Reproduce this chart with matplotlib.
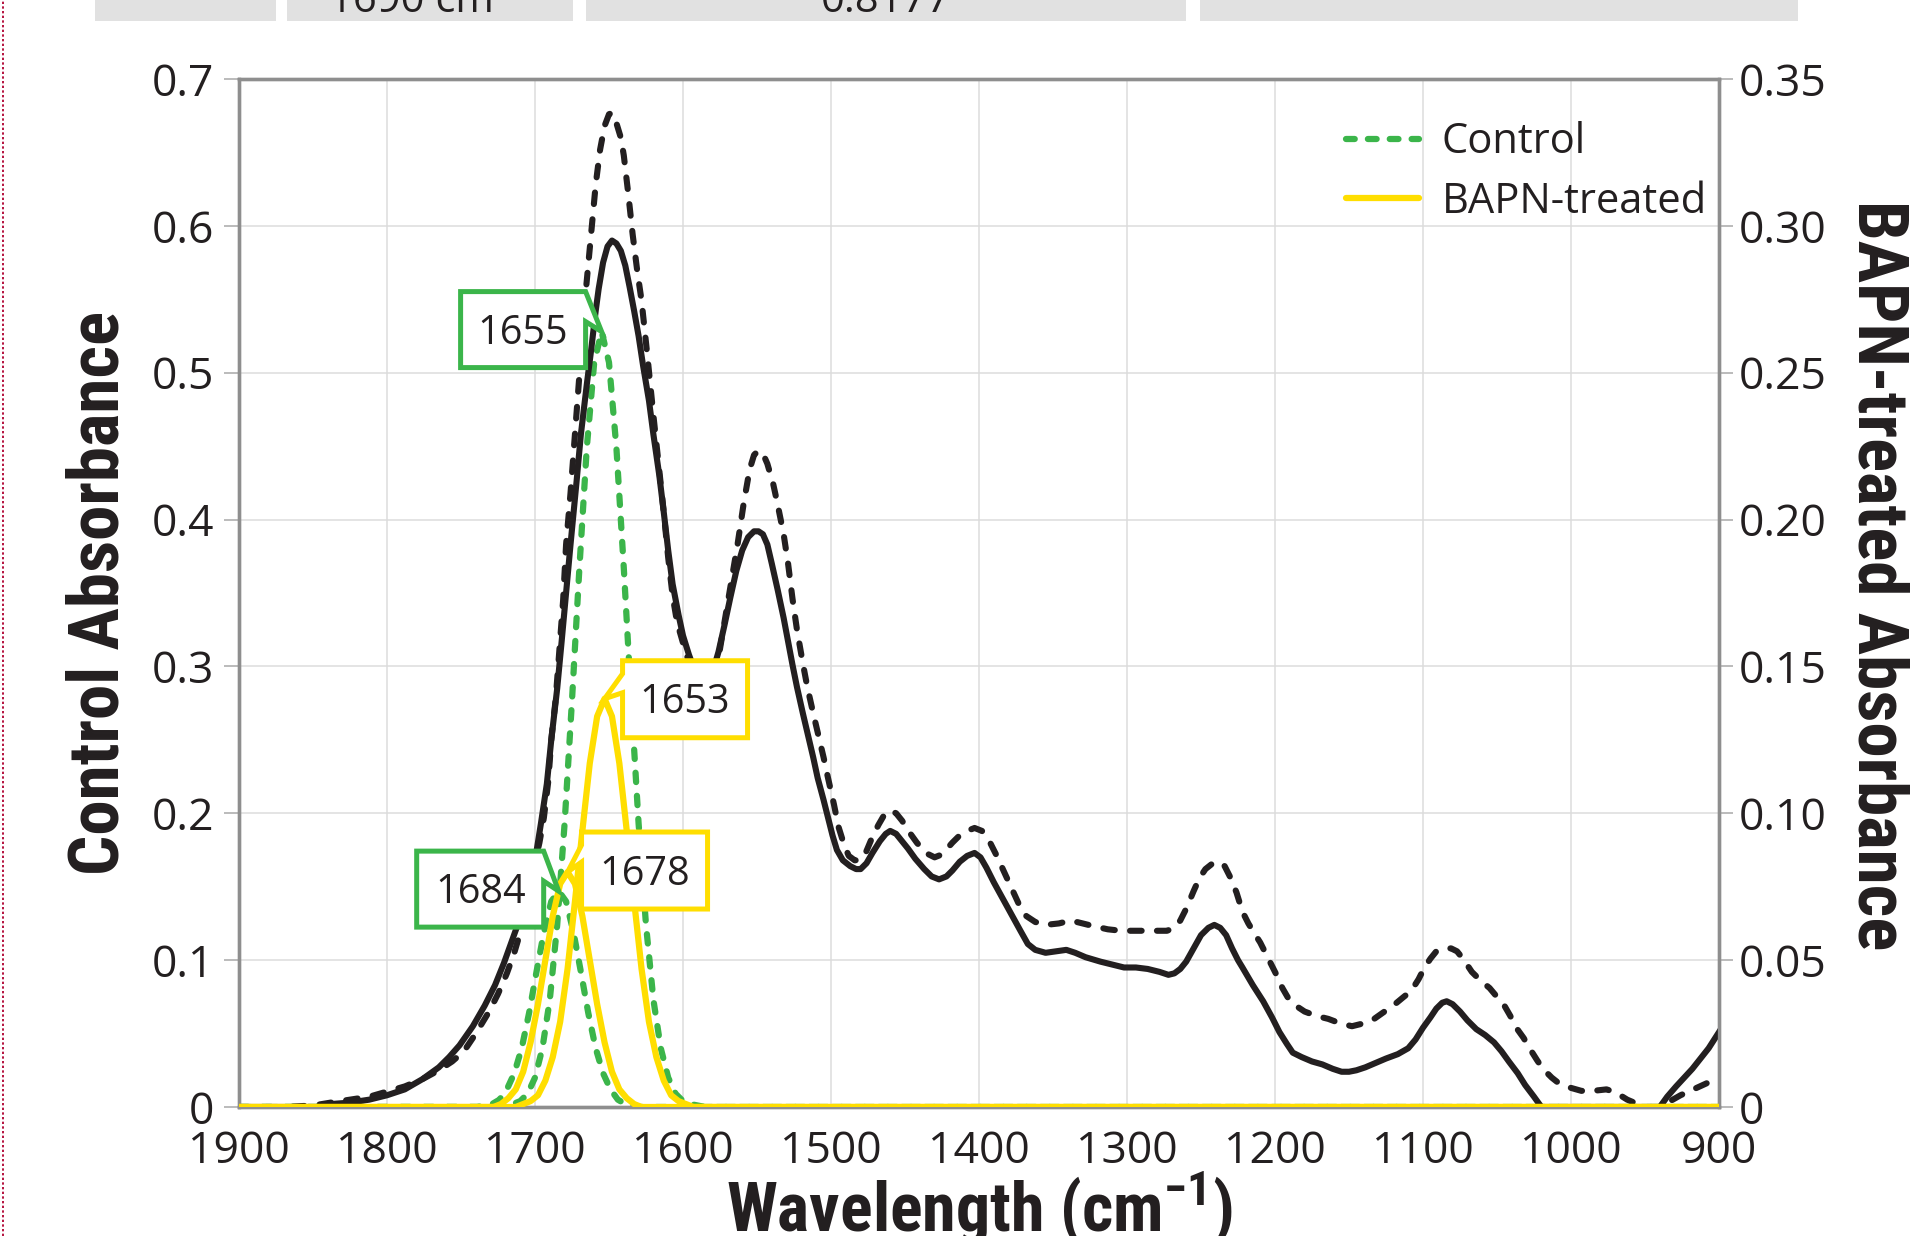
import matplotlib
matplotlib.use("Agg")
import matplotlib.pyplot as plt
from matplotlib.lines import Line2D
from matplotlib.patches import Polygon, Rectangle
from matplotlib.transforms import IdentityTransform

plt.rcParams['font.family'] = ['Open Sans', 'DejaVu Sans']
plt.rcParams['mathtext.fontset'] = 'custom'
plt.rcParams['mathtext.rm'] = 'Roboto Condensed:bold'
plt.rcParams['mathtext.bf'] = 'Roboto Condensed:bold'

# ---------------- data ----------------
# Control spectrum (left axis)
control_wn = [1900, 1870, 1850, 1838, 1825, 1812, 1800, 1788, 1776, 1765, 1756, 1748,
              1740, 1731, 1725, 1719, 1714, 1709, 1705, 1701, 1697, 1694, 1691, 1689,
              1686, 1684, 1681, 1679, 1676, 1674, 1670, 1666, 1662, 1659, 1656, 1653,
              1650, 1648, 1645, 1642, 1640, 1637, 1634, 1631, 1628, 1624, 1620, 1616,
              1613, 1610, 1607, 1604, 1600, 1596, 1592, 1588, 1584, 1580, 1576, 1572,
              1568, 1563, 1559, 1555, 1552, 1549, 1546, 1543, 1539, 1536, 1532, 1529,
              1526, 1523, 1519, 1516, 1512, 1509, 1505, 1502, 1498, 1495, 1491, 1488,
              1484, 1481, 1477, 1472, 1468, 1464, 1460, 1456, 1452, 1447, 1442, 1436,
              1430, 1425, 1418, 1413, 1408, 1403, 1398, 1393, 1388, 1383, 1378, 1373,
              1368, 1362, 1355, 1346, 1338, 1330, 1322, 1313, 1304, 1288, 1273, 1268,
              1264, 1260, 1255, 1251, 1247, 1242, 1238, 1234, 1230, 1226, 1222, 1218,
              1215, 1210, 1206, 1202, 1199, 1195, 1191, 1186, 1180, 1172, 1164, 1156,
              1148, 1140, 1133, 1126, 1119, 1113, 1108, 1103, 1099, 1095, 1091, 1086,
              1081, 1077, 1073, 1067, 1061, 1055, 1050, 1045, 1041, 1037, 1032, 1028,
              1023, 1019, 1013, 1008, 1000, 993, 985, 976, 970, 962, 955, 950,
              940, 933, 926, 913, 900]
control_abs = [0.0, 0.0, 0.001, 0.003, 0.005, 0.007, 0.0105, 0.014, 0.019, 0.025, 0.031, 0.038,
               0.050, 0.065, 0.077, 0.091, 0.105, 0.122, 0.140, 0.162, 0.180, 0.197, 0.222, 0.250,
               0.278, 0.305, 0.345, 0.383, 0.418, 0.445, 0.498, 0.552, 0.595, 0.628, 0.652, 0.668,
               0.676, 0.677, 0.670, 0.660, 0.648, 0.622, 0.594, 0.570, 0.549, 0.511, 0.471, 0.433,
               0.405, 0.374, 0.348, 0.330, 0.316, 0.303, 0.292, 0.286, 0.285, 0.291, 0.306, 0.330,
               0.354, 0.384, 0.411, 0.434, 0.444, 0.447, 0.445, 0.438, 0.424, 0.410, 0.390, 0.370,
               0.346, 0.325, 0.302, 0.286, 0.268, 0.255, 0.238, 0.224, 0.206, 0.191, 0.178, 0.171,
               0.168, 0.168, 0.172, 0.184, 0.192, 0.199, 0.202, 0.200, 0.195, 0.187, 0.180, 0.173,
               0.170, 0.172, 0.180, 0.185, 0.188, 0.190, 0.188, 0.181, 0.171, 0.160, 0.149, 0.138,
               0.130, 0.126, 0.124, 0.125, 0.127, 0.125, 0.123, 0.121, 0.120, 0.120, 0.120, 0.122,
               0.127, 0.135, 0.147, 0.156, 0.162, 0.166, 0.167, 0.164, 0.156, 0.146, 0.133, 0.125,
               0.120, 0.112, 0.104, 0.096, 0.090, 0.081, 0.074, 0.069, 0.065, 0.062, 0.060, 0.057,
               0.055, 0.057, 0.060, 0.065, 0.070, 0.075, 0.079, 0.087, 0.095, 0.101, 0.106, 0.108,
               0.108, 0.106, 0.101, 0.092, 0.086, 0.081, 0.075, 0.069, 0.062, 0.054, 0.047, 0.040,
               0.032, 0.026, 0.020, 0.016, 0.013, 0.011, 0.011, 0.012, 0.010, 0.005, 0.002, 0.0,
               0.0, 0.004, 0.008, 0.014, 0.020]

# BAPN-treated spectrum (right axis)
bapn_wn = [1900, 1840, 1838, 1825, 1812, 1800, 1788, 1776, 1765, 1758, 1751, 1742,
           1734, 1727, 1721, 1716, 1711, 1706, 1702, 1699, 1696, 1692, 1689, 1685,
           1682, 1679, 1676, 1672, 1669, 1665, 1662, 1659, 1657, 1654, 1651, 1648,
           1645, 1642, 1639, 1636, 1633, 1630, 1627, 1623, 1620, 1616, 1613, 1610,
           1607, 1603, 1600, 1596, 1592, 1588, 1584, 1580, 1576, 1572, 1568, 1564,
           1560, 1556, 1552, 1549, 1546, 1543, 1540, 1536, 1532, 1529, 1526, 1523,
           1519, 1516, 1512, 1509, 1505, 1502, 1499, 1496, 1492, 1487, 1483, 1480,
           1476, 1472, 1467, 1463, 1460, 1456, 1452, 1448, 1443, 1437, 1432, 1427,
           1422, 1418, 1413, 1408, 1403, 1399, 1395, 1390, 1384, 1378, 1372, 1367,
           1362, 1355, 1348, 1341, 1335, 1328, 1318, 1310, 1302, 1294, 1286, 1278,
           1272, 1268, 1264, 1260, 1255, 1250, 1245, 1241, 1237, 1233, 1229, 1225,
           1222, 1215, 1208, 1202, 1197, 1192, 1188, 1182, 1175, 1168, 1161, 1155,
           1150, 1145, 1139, 1132, 1125, 1117, 1110, 1105, 1100, 1095, 1091, 1087,
           1084, 1080, 1075, 1070, 1064, 1058, 1052, 1047, 1042, 1036, 1031, 1025,
           1020, 940, 935, 929, 918, 907, 900]
bapn_abs = [0.0, 0.0, 0.001, 0.0015, 0.0025, 0.004, 0.006, 0.0095, 0.0135, 0.017, 0.021, 0.0275,
            0.0345, 0.0415, 0.049, 0.056, 0.063, 0.0705, 0.0785, 0.087, 0.0965, 0.110, 0.125, 0.1425,
            0.1585, 0.175, 0.1915, 0.2125, 0.229, 0.246, 0.258, 0.271, 0.2785, 0.2875, 0.293, 0.295,
            0.294, 0.2915, 0.2865, 0.279, 0.271, 0.2625, 0.2525, 0.2405, 0.229, 0.215, 0.2025, 0.1895,
            0.178, 0.1675, 0.1605, 0.154, 0.1485, 0.1455, 0.145, 0.148, 0.155, 0.164, 0.1735, 0.1825,
            0.1895, 0.194, 0.196, 0.196, 0.195, 0.1915, 0.185, 0.176, 0.1665, 0.1585, 0.1505, 0.143,
            0.134, 0.1275, 0.119, 0.112, 0.1045, 0.0985, 0.0925, 0.0875, 0.084, 0.082, 0.081, 0.081,
            0.083, 0.0865, 0.0905, 0.093, 0.094, 0.093, 0.0905, 0.088, 0.0845, 0.081, 0.0785, 0.0775,
            0.0785, 0.0805, 0.0835, 0.0855, 0.0865, 0.085, 0.0815, 0.0765, 0.071, 0.0655, 0.060, 0.0555,
            0.0535, 0.0525, 0.053, 0.0535, 0.0525, 0.051, 0.0495, 0.0485, 0.0475, 0.0475, 0.047, 0.046,
            0.045, 0.0455, 0.047, 0.0495, 0.054, 0.0585, 0.061, 0.062, 0.061, 0.0585, 0.054, 0.050,
            0.0475, 0.0415, 0.036, 0.0305, 0.0255, 0.0215, 0.0185, 0.017, 0.0155, 0.0145, 0.013, 0.012,
            0.012, 0.0125, 0.0135, 0.015, 0.0165, 0.018, 0.020, 0.023, 0.027, 0.0305, 0.0335, 0.0355,
            0.036, 0.035, 0.0325, 0.0295, 0.0265, 0.0245, 0.022, 0.019, 0.0155, 0.0115, 0.0075, 0.0035,
            0.0, 0.0, 0.0035, 0.007, 0.013, 0.020, 0.0255]

# Fitted control components (left axis)
ctrl_1655_wn = [1900, 1725, 1720, 1715, 1710, 1705, 1700, 1695, 1690, 1685, 1680, 1675, 1670,
                1665, 1660, 1655, 1650, 1645, 1640, 1635, 1630, 1625, 1620, 1615, 1610,
                1605, 1600, 1595, 1590, 1585, 900]
ctrl_1655_abs = [0.0, 0.0, 0.001, 0.002, 0.004, 0.009, 0.020, 0.040, 0.073, 0.124, 0.193, 0.277, 0.367,
                 0.449, 0.507, 0.528, 0.507, 0.449, 0.367, 0.277, 0.193, 0.124, 0.073, 0.040, 0.020,
                 0.009, 0.004, 0.002, 0.001, 0.0, 0.0]
ctrl_1684_wn = [1900, 1739, 1734, 1729, 1724, 1719, 1714, 1709, 1704, 1699, 1694, 1689, 1684,
                1679, 1674, 1669, 1664, 1659, 1654, 1649, 1644, 1639, 1634, 1629, 900]
ctrl_1684_abs = [0.0, 0.0, 0.001, 0.002, 0.005, 0.012, 0.023, 0.040, 0.064, 0.092, 0.119, 0.140, 0.147,
                 0.140, 0.119, 0.092, 0.064, 0.040, 0.023, 0.012, 0.005, 0.002, 0.001, 0.0, 0.0]

# Fitted BAPN-treated components (right axis)
bapn_1653_wn = [1900, 1713, 1708, 1703, 1698, 1693, 1688, 1683, 1678, 1673, 1668, 1663, 1658,
                1653, 1648, 1643, 1638, 1633, 1628, 1623, 1618, 1613, 1608, 1603, 1598, 1593, 900]
bapn_1653_abs = [0.0, 0.0, 0.001, 0.002, 0.004, 0.009, 0.017, 0.029, 0.047, 0.070, 0.094, 0.117, 0.133,
                 0.139, 0.133, 0.117, 0.094, 0.070, 0.047, 0.029, 0.017, 0.009, 0.004, 0.002, 0.001, 0.0, 0.0]
bapn_1678_wn = [1900, 1728, 1723, 1718, 1713, 1708, 1703, 1698, 1693, 1688, 1683, 1678,
                1673, 1668, 1663, 1658, 1653, 1648, 1643, 1638, 1633, 1628, 900]
bapn_1678_abs = [0.0, 0.0, 0.001, 0.003, 0.006, 0.012, 0.022, 0.035, 0.050, 0.065, 0.076, 0.080,
                 0.076, 0.065, 0.050, 0.035, 0.022, 0.012, 0.006, 0.003, 0.001, 0.0, 0.0]

# Peak call-outs: (wavenumber, absorbance, label, axis)
callouts = [
    (1655, 0.528, "1655", "left"),
    (1684, 0.147, "1684", "left"),
    (1653, 0.139, "1653", "right"),
    (1678, 0.080, "1678", "right"),
]

x_ticks = [1900, 1800, 1700, 1600, 1500, 1400, 1300, 1200, 1100, 1000, 900]
left_ticks = [0, 0.1, 0.2, 0.3, 0.4, 0.5, 0.6, 0.7]
left_labels = ["0", "0.1", "0.2", "0.3", "0.4", "0.5", "0.6", "0.7"]
right_ticks = [0, 0.05, 0.10, 0.15, 0.20, 0.25, 0.30, 0.35]
right_labels = ["0", "0.05", "0.10", "0.15", "0.20", "0.25", "0.30", "0.35"]

table_cells = ["", "1690 cm\u207b\u00b9", "0.8177", ""]

# ---------------- styles ----------------
W, H = 1910, 1236
TXT = '#231f20'
BLACK = '#231f20'
GREEN = '#3bb54a'
YELLOW = '#ffde00'
SPINE = '#8e8e8e'
GRID = '#dcdcdc'
BOLD_NARROW = ['Roboto Condensed', 'Roboto', 'DejaVu Sans']

fig = plt.figure(figsize=(W / 100, H / 100), dpi=100)
fig.patch.set_facecolor('white')


def px_fig(x, y_from_top):
    return x / W, 1 - y_from_top / H


ax = fig.add_axes([239 / W, 1 - 1107 / H, 1480 / W, 1028 / H])
ax2 = ax.twinx()

ax.set_xlim(1900, 900)
ax.set_ylim(0, 0.7)
ax2.set_ylim(0, 0.35)

ax.set_xticks(x_ticks)
ax.set_xticklabels([str(t) for t in x_ticks])
ax.set_yticks(left_ticks)
ax.set_yticklabels(left_labels)
ax2.set_yticks(right_ticks)
ax2.set_yticklabels(right_labels)

ax.grid(True, color=GRID, lw=1.1)
ax.set_axisbelow(True)

for a in (ax, ax2):
    for s in a.spines.values():
        s.set_color(SPINE)
        s.set_linewidth(2.4)

ax.tick_params(axis='y', length=11, width=1.1, color='#a8a8a8', pad=7,
               labelsize=32, labelcolor=TXT)
ax.tick_params(axis='x', length=0, pad=16, labelsize=32, labelcolor=TXT)
ax2.tick_params(axis='y', length=10, width=1.1, color='#a8a8a8', pad=4.5,
                labelsize=32, labelcolor=TXT)

# spectra
ax.plot(control_wn, control_abs, color=BLACK, lw=4.4,
        linestyle=(0, (1.9, 2.5)), dash_capstyle='round', zorder=2)
ax.plot(ctrl_1655_wn, ctrl_1655_abs, color=GREEN, lw=4.5,
        linestyle=(0, (1.5, 2.2)), dash_capstyle='round', zorder=3)
ax.plot(ctrl_1684_wn, ctrl_1684_abs, color=GREEN, lw=4.5,
        linestyle=(0, (1.5, 2.2)), dash_capstyle='round', zorder=3)

ax2.plot(bapn_wn, bapn_abs, color=BLACK, lw=4.4, solid_joinstyle='round', zorder=2)
ax2.plot(bapn_1653_wn, bapn_1653_abs, color=YELLOW, lw=4.5, solid_joinstyle='round', zorder=3)
ax2.plot(bapn_1678_wn, bapn_1678_abs, color=YELLOW, lw=4.5, solid_joinstyle='round', zorder=3)

# legend
handles = [
    Line2D([], [], color=GREEN, lw=4.5, linestyle=(0, (1.4, 2.1)), dash_capstyle='round'),
    Line2D([], [], color=YELLOW, lw=4.5, solid_capstyle='round'),
]
ax2.legend(handles, ["Control", "BAPN-treated"], loc='center left',
           bbox_to_anchor=px_fig(1346, 172), bbox_transform=fig.transFigure,
           frameon=False, fontsize=30, handlelength=1.75, handletextpad=0.55,
           labelspacing=0.42, borderpad=0, borderaxespad=0, labelcolor=TXT)

# axis titles
fig.text(*px_fig(99, 593), "Control Absorbance", rotation=90, ha='center', va='center',
         fontsize=51, fontweight='bold', family=BOLD_NARROW, color=TXT)
fig.text(*px_fig(1878, 575), "BAPN-treated Absorbance", rotation=270, ha='center', va='center',
         fontsize=51, fontweight='bold', family=BOLD_NARROW, color=TXT)
fig.text(*px_fig(980, 1231), r"Wavelength (cm$^{-1}$)", ha='center', va='baseline',
         fontsize=49, fontweight='bold', family=BOLD_NARROW, color=TXT)

# call-out boxes: outline offsets in pixels from the marked peak (x right, y down)
callout_shapes = {
    "1655": ([(-141, -40), (-16, -40), (0, 0), (-16, -10), (-16, 36), (-141, 36)], (-78.5, -2), GREEN),
    "1684": ([(-142, -40), (-15, -40), (0, 0), (-15, -10), (-15, 36), (-142, 36)], (-78.5, -2), GREEN),
    "1653": ([(18, -38), (143, -38), (143, 39), (18, 39), (18, -6), (0, 0), (18, -25)], (80.5, 0.5), YELLOW),
    "1678": ([(14, -40), (140, -40), (140, 37), (14, 37), (14, -10), (0, 0), (14, -27)], (77, -1.5), YELLOW),
}
for wn, val, label, side in callouts:
    target = ax if side == "left" else ax2
    px, py = target.transData.transform((wn, val))
    outline, (tx, ty), col = callout_shapes[label]
    verts = [(px + dx, py - dy) for dx, dy in outline]
    fig.add_artist(Polygon(verts, closed=True, transform=IdentityTransform(),
                           facecolor='white', edgecolor=col, lw=3.6,
                           joinstyle='miter', zorder=5))
    fig.text(px + tx, py - ty - 14, label, transform=IdentityTransform(),
             ha='center', va='baseline', fontsize=28.5, color=TXT, zorder=6)

# strip of table cells along the top edge
cell_spans = [(95, 276), (287, 573), (586, 1186), (1200, 1798)]
for (x0, x1), txt in zip(cell_spans, table_cells):
    fig.add_artist(Rectangle(px_fig(x0, 21), (x1 - x0) / W, 21 / H,
                             transform=fig.transFigure, facecolor='#e1e1e1',
                             edgecolor='none', zorder=1))
    if txt:
        fig.text(*px_fig((x0 + x1) / 2, 12), txt, ha='center', va='baseline',
                 fontsize=30, color=TXT, zorder=2)

# dotted page margin line on the left edge
fig.add_artist(Line2D([2.5 / W, 2.5 / W], [0, 1], transform=fig.transFigure,
                      color='#b5123e', lw=1.4, linestyle=(0, (1.2, 1.2))))

fig.savefig("out.png", dpi=100, facecolor='white')
